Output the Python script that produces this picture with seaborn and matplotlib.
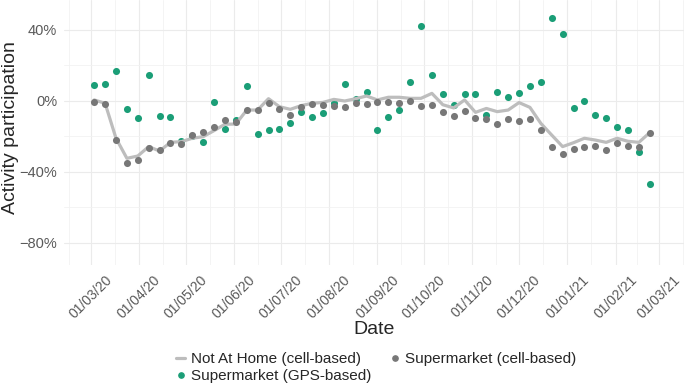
import numpy as np
import pandas as pd
import seaborn as sns
import matplotlib.pyplot as plt
import matplotlib.dates as mdates
from matplotlib.ticker import FixedLocator, FuncFormatter
from matplotlib.lines import Line2D

# =========================================================
# DATA (weekly values, % change)
# =========================================================
dates = pd.date_range("2020-03-03", periods=52, freq="7D")

not_at_home = [0.6, -1.3, -21.0, -32.3, -31.0, -25.7, -28.2, -23.3, -22.9, -21.0,
               -20.1, -16.7, -13.1, -13.0, -5.1, -5.1, 1.3, -3.2, -4.7, -2.6,
               -1.3, -0.8, 0.9, 0.0, 1.3, 2.8, 0.6, 2.1, 2.1, 1.5,
               1.5, 4.3, -2.1, -3.9, 0.6, -6.4, -4.2, -6.0, -5.1, -0.9,
               -3.6, -12.6, -19.2, -25.7, -23.5, -21.0, -22.0, -23.3, -21.0, -22.7,
               -23.3, -17.8]

supermarket_cell = [-0.6, -1.9, -21.8, -34.9, -33.2, -26.3, -27.4, -23.5, -24.1, -19.3,
                    -17.5, -14.6, -10.5, -11.8, -4.9, -5.3, -1.3, -4.7, -8.1, -3.4,
                    -1.7, -2.3, -2.8, -3.6, -0.9, -1.7, -0.8, -0.4, -1.1, 0.0,
                    -2.6, -2.4, -6.0, -8.3, -5.6, -9.7, -10.0, -13.1, -10.0, -11.1,
                    -10.0, -16.3, -25.7, -29.9, -26.9, -25.7, -25.5, -27.4, -23.5, -25.5,
                    -25.9, -17.8]

supermarket_gps = [9.0, 9.4, 16.9, -4.3, -9.4, 14.6, -8.5, -9.2, -22.7, -19.5,
                   -23.1, -0.6, -15.8, -10.7, 8.6, -18.6, -16.2, -15.8, -12.2, -6.2,
                   -9.2, -6.8, -1.3, 9.4, 1.3, 5.2, -16.3, -9.0, -5.1, 10.7,
                   42.4, 14.6, 3.8, -2.4, 4.1, 4.1, -8.1, 5.2, 2.3, 4.3,
                   8.5, 10.5, 46.6, 37.9, -4.1, 0.2, -7.7, -9.8, -14.5, -16.5,
                   -28.9, -46.8]

series_labels = ["Not At Home (cell-based)", "Supermarket (cell-based)",
                 "Supermarket (GPS-based)"]

df = pd.DataFrame({
    "date": dates,
    "not_at_home": not_at_home,
    "cell": supermarket_cell,
    "gps": supermarket_gps,
})

# =========================================================
# STYLE
# =========================================================
COL_LINE = "#bdbdbd"
COL_CELL = "#777777"
COL_GPS = "#1b9e77"
COL_TEXT = "#5a5a5a"

sns.set_style("white")
plt.rcParams["font.family"] = ["Liberation Sans", "DejaVu Sans"]

fig = plt.figure(figsize=(6.85, 3.9), dpi=100)
ax = fig.add_axes([64 / 685, 1 - 265 / 390, 620 / 685, 265 / 390])

sns.scatterplot(data=df, x="date", y="gps", color=COL_GPS, s=26,
                linewidth=0, ax=ax, zorder=3)
sns.lineplot(data=df, x="date", y="not_at_home", color=COL_LINE, lw=2.3,
             ax=ax, zorder=4)
sns.scatterplot(data=df, x="date", y="cell", color=COL_CELL, s=26,
                linewidth=0, ax=ax, zorder=5)

# axes limits / ticks
ax.set_xlim(pd.Timestamp("2020-02-12 14:00"), pd.Timestamp("2021-03-17"))
ax.set_ylim(-92.4, 56.9)

month_starts = pd.date_range("2020-02-01", "2021-04-01", freq="MS")
major = [d for d in month_starts if pd.Timestamp("2020-03-01") <= d <= pd.Timestamp("2021-03-01")]
minor = [month_starts[i] + (month_starts[i + 1] - month_starts[i]) / 2
         for i in range(len(month_starts) - 1)]
ax.xaxis.set_major_locator(FixedLocator(mdates.date2num(major)))
ax.xaxis.set_minor_locator(FixedLocator(mdates.date2num(minor)))
ax.xaxis.set_major_formatter(mdates.DateFormatter("%d/%m/%y"))

ax.yaxis.set_major_locator(FixedLocator([-80, -40, 0, 40]))
ax.yaxis.set_minor_locator(FixedLocator([-60, -20, 20]))
ax.yaxis.set_major_formatter(FuncFormatter(lambda v, _: f"{v:.0f}%".replace("-", "\u2212")))

ax.grid(which="major", color="#ebebeb", lw=0.8)
ax.grid(which="minor", color="#f2f2f2", lw=0.6)
ax.set_axisbelow(True)
sns.despine(ax=ax, left=True, bottom=True)

ax.tick_params(which="major", length=3.5, width=0.7, color=COL_TEXT,
               labelcolor=COL_TEXT, labelsize=10.5, pad=1.5)
ax.tick_params(axis="x", which="major", labelsize=10, labelrotation=45, pad=2)
ax.tick_params(which="minor", length=0)

ax.set_xlabel("Date", fontsize=14)
ax.set_ylabel("Activity participation", fontsize=14)
ax.xaxis.set_label_coords(310 / 620, (265 - 330) / 265)
ax.xaxis.label.set_va("center")
ax.yaxis.set_label_coords((11 - 64) / 620, (265 - 128) / 265)
ax.yaxis.label.set_va("center")

# =========================================================
# LEGEND
# =========================================================
handles = [
    Line2D([], [], color=COL_LINE, lw=2.3),
    Line2D([], [], marker="o", ls="", color=COL_GPS, markersize=3.8),
    Line2D([], [], marker="o", ls="", color=COL_CELL, markersize=3.8),
]
labels = [series_labels[0], series_labels[2], series_labels[1]]
fig.legend(handles, labels, loc="upper left",
           bbox_to_anchor=(176 / 685, 1 - 352 / 390), ncol=2,
           frameon=False, fontsize=11, handlelength=0.6, handletextpad=0.4,
           columnspacing=1.2, labelspacing=0.2, borderpad=0, borderaxespad=0)

fig.savefig("out.png", dpi=100)
